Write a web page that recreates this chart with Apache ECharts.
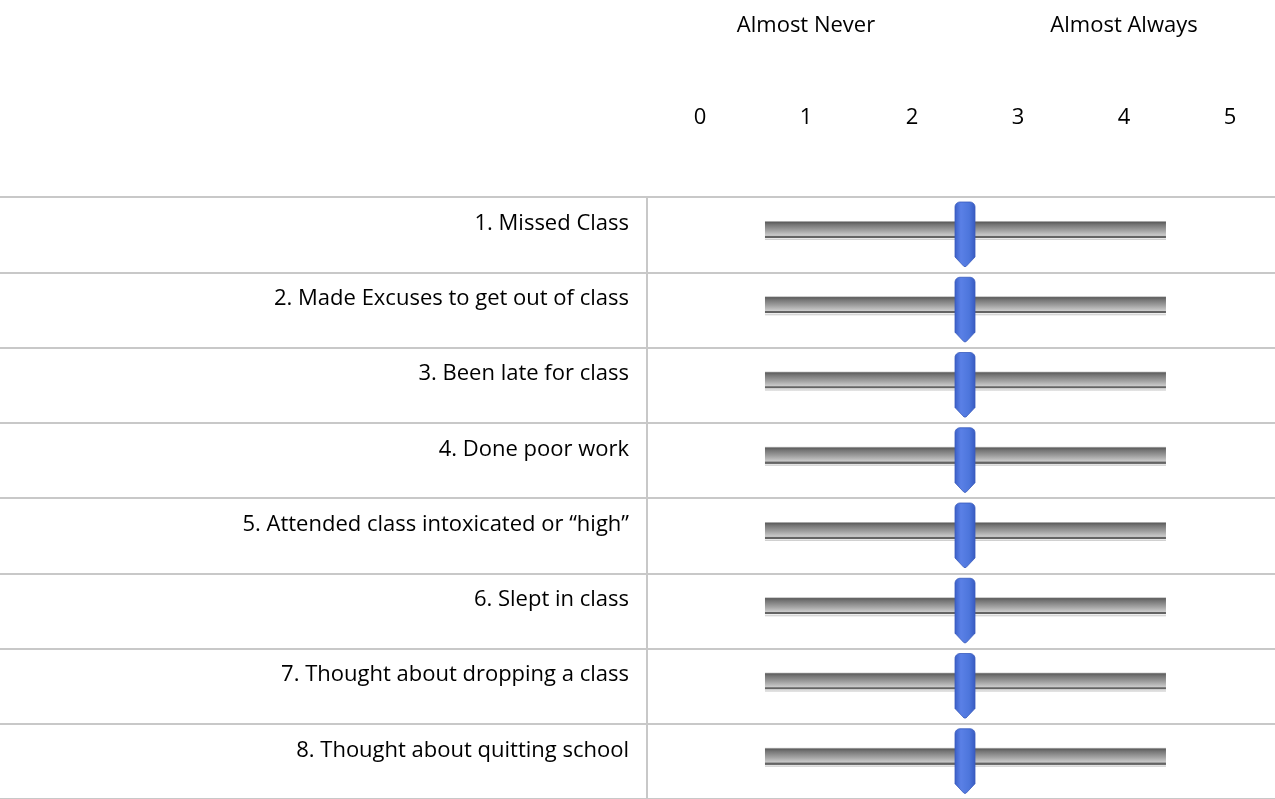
<!DOCTYPE html>
<html>
<head>
<meta charset="utf-8">
<script src="https://cdn.jsdelivr.net/npm/echarts@6/dist/echarts.min.js"></script>
<style>
html,body{margin:0;padding:0;background:#fff;}
#chart{width:1275px;height:799px;}
</style>
</head>
<body>
<div id="chart"></div>
<script>
// ---- data ----
const categories = [
  '1. Missed Class',
  '2. Made Excuses to get out of class',
  '3. Been late for class',
  '4. Done poor work',
  '5. Attended class intoxicated or \u201chigh\u201d',
  '6. Slept in class',
  '7. Thought about dropping a class',
  '8. Thought about quitting school'
];
const values = [2.5, 2.5, 2.5, 2.5, 2.5, 2.5, 2.5, 2.5];
const tickLabels = ['0', '1', '2', '3', '4', '5'];
const headerLabels = ['', 'Almost Never', '', '', 'Almost Always', ''];

// ---- chart ----
const FONT = '"Open Sans", sans-serif';
const FS = 22;
const LINE = '#c8c8c8';
const ROW_H = 76;
const TABLE_H = ROW_H * categories.length;
const TRACK_MIN = 0.613, TRACK_MAX = 4.396;

const chart = echarts.init(document.getElementById('chart'), null, {renderer: 'canvas'});

function roundedThumb(cx, top, w, bodyEnd, tip, r) {
  const x0 = cx - w / 2, x1 = cx + w / 2;
  const pts = [];
  const steps = 6;
  for (let i = 0; i <= steps; i++) {
    const a = Math.PI + (Math.PI / 2) * (i / steps);
    pts.push([x0 + r + r * Math.cos(a), top + r + r * Math.sin(a)]);
  }
  for (let i = 0; i <= steps; i++) {
    const a = -Math.PI / 2 + (Math.PI / 2) * (i / steps);
    pts.push([x1 - r + r * Math.cos(a), top + r + r * Math.sin(a)]);
  }
  pts.push([x1, bodyEnd]);
  pts.push([cx + 1, tip - 0.5]);
  pts.push([cx - 1, tip - 0.5]);
  pts.push([x0, bodyEnd]);
  return pts;
}

function renderSlider(params, api) {
  const v = api.value(0), c = api.value(1);
  const center = api.coord([v, c]);
  const bandH = api.size([0, 1])[1];
  const top = center[1] - bandH / 2;
  const left = api.coord([TRACK_MIN, c])[0];
  const right = api.coord([TRACK_MAX, c])[0];
  return {
    type: 'group',
    children: [
      {
        type: 'rect',
        shape: {x: left, y: top + 24, width: right - left, height: 19},
        style: {
          fill: {
            type: 'linear', x: 0, y: 0, x2: 0, y2: 1,
            colorStops: [
              {offset: 0, color: '#d4d4d4'},
              {offset: 0.07, color: '#5e5e5e'},
              {offset: 0.18, color: '#747474'},
              {offset: 0.5, color: '#a2a2a2'},
              {offset: 0.76, color: '#cbcbcb'},
              {offset: 0.8, color: '#646464'},
              {offset: 0.88, color: '#646464'},
              {offset: 0.9, color: '#f2f2f2'},
              {offset: 1, color: '#c4c4c4'}
            ]
          }
        }
      },
      {
        type: 'polygon',
        shape: {points: roundedThumb(center[0], top + 5, 20, top + 60, top + 70, 5)},
        style: {
          fill: {
            type: 'linear', x: 0, y: 0, x2: 1, y2: 0,
            colorStops: [
              {offset: 0, color: '#3a5ec6'},
              {offset: 0.3, color: '#5a80e6'},
              {offset: 0.7, color: '#4d76dc'},
              {offset: 1, color: '#3759c0'}
            ]
          },
          stroke: '#3a5cbc',
          lineWidth: 0.8
        }
      }
    ]
  };
}

const option = {
  animation: false,
  backgroundColor: '#ffffff',
  grid: [
    {left: 0, width: 647, top: 197, height: TABLE_H},
    {left: 647, right: 0, top: 197, height: TABLE_H},
    {left: 700, right: 45, top: 197, height: TABLE_H}
  ],
  xAxis: [
    {gridIndex: 0, type: 'value', show: false},
    {gridIndex: 1, type: 'value', show: false},
    {
      gridIndex: 2, type: 'value', min: 0, max: 5, interval: 1, position: 'top',
      axisLine: {show: false}, axisTick: {show: false}, splitLine: {show: false},
      axisLabel: {
        margin: 79, verticalAlign: 'middle', fontFamily: FONT, fontSize: FS, color: '#000',
        formatter: v => tickLabels[Math.round(v)]
      }
    },
    {
      gridIndex: 2, type: 'value', min: 0, max: 5, interval: 1, position: 'top',
      axisLine: {show: false}, axisTick: {show: false}, splitLine: {show: false},
      axisLabel: {
        margin: 171, verticalAlign: 'middle', fontFamily: FONT, fontSize: FS, color: '#000',
        formatter: v => headerLabels[Math.round(v)]
      }
    }
  ],
  yAxis: [
    {
      gridIndex: 0, type: 'category', data: categories, inverse: true,
      axisLine: {show: false}, axisTick: {show: false}, axisLabel: {show: false},
      splitLine: {show: true, lineStyle: {color: LINE, width: 2}}
    },
    {
      gridIndex: 1, type: 'category', data: categories, inverse: true,
      axisLine: {show: true, lineStyle: {color: LINE, width: 2}},
      axisTick: {show: false},
      axisLabel: {
        show: true, margin: 18, fontFamily: FONT, fontSize: FS, color: '#000',
        verticalAlign: 'bottom', lineHeight: 22
      },
      splitLine: {show: true, lineStyle: {color: LINE, width: 2}}
    },
    {gridIndex: 2, type: 'category', data: categories, inverse: true, show: false}
  ],
  series: [
    {
      type: 'custom',
      xAxisIndex: 2,
      yAxisIndex: 2,
      renderItem: renderSlider,
      data: values.map((v, i) => [v, i]),
      clip: false
    }
  ]
};
chart.setOption(option);
</script>
</body>
</html>
